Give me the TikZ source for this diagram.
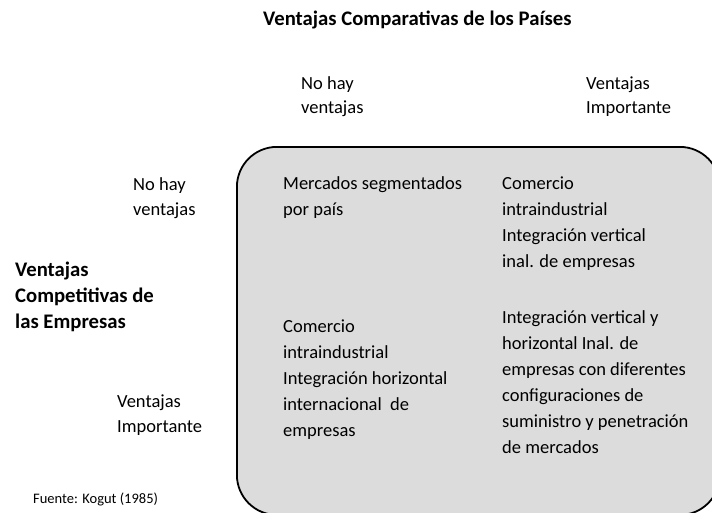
\documentclass[tikz,border=0pt]{standalone}
\usepackage{fontspec}
\setmainfont{Carlito}
\begin{document}
\begin{tikzpicture}[x=1pt,y=-1pt,
  lbl/.style={inner sep=0pt, anchor=base west, align=left, font=\fontsize{18.5}{26}\selectfont},
  axis/.style={inner sep=0pt, anchor=base west, align=left, font=\fontsize{18.5}{24.5}\selectfont},
  bold/.style={inner sep=0pt, anchor=base west, align=left, font=\fontsize{20.7}{26}\selectfont\bfseries},
  quad/.style={draw=black, line width=1.8pt, fill=boxgray, rounded corners=40pt, inner sep=0pt, anchor=north west, minimum width=483pt, minimum height=368pt}]
\definecolor{boxgray}{RGB}{220,220,220}
\useasboundingbox (0,0) rectangle (712,512);
\clip (0,0) rectangle (712,512);
\node[quad] (box) at (236,146) {};
% single-line nodes: base = baseline; multi-line nodes: base = baseline of last line
\node[bold] (title) at (263,25) {Ventajas Comparativas de los Países};
\node[axis] (colA) at (301,113.5) {No hay\\ventajas};
\node[axis] (colB) at (586,113.5) {Ventajas\\Importante};
\node[axis] (rowA) at (133,215) {No hay\\ventajas};
\node[bold] (rowtitle) at (15,328.5) {Ventajas\\Competitivas de\\las Empresas};
\node[axis] (rowB) at (117,432) {Ventajas\\Importante};
\node[inner sep=0pt, anchor=base west, font=\fontsize{14.5}{18}\selectfont] (src) at (33,503) {Fuente: Kogut (1985)};
\node[lbl] (c11) at (283,215) {Mercados segmentados\\por país};
\node[lbl] (c12) at (502,267) {Comercio\\intraindustrial\\Integración vertical\\inal. de empresas};
\node[lbl] (c21) at (283,436) {Comercio\\intraindustrial\\Integración horizontal\\internacional\ \ de\\empresas};
\node[lbl] (c22) at (502,453) {Integración vertical y\\horizontal Inal. de\\empresas con diferentes\\configuraciones de\\suministro y penetración\\de mercados};
\end{tikzpicture}
\end{document}
